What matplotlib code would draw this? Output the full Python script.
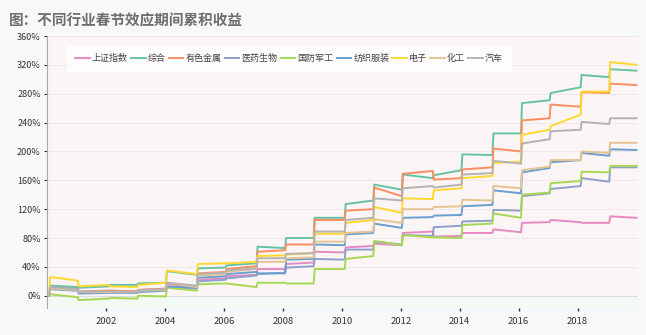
import matplotlib
matplotlib.use("Agg")
import matplotlib.pyplot as plt
import numpy as np
import pandas as pd

plt.rcParams['font.family'] = ['Noto Sans CJK SC', 'DejaVu Sans']

# 春节日期（每年窗口以春节为中心）
cny_dates = ["2000-02-05", "2001-01-24", "2002-02-12", "2003-02-01", "2004-01-22",
             "2005-02-09", "2006-01-29", "2007-02-18", "2008-02-07", "2009-01-26",
             "2010-02-14", "2011-02-03", "2012-01-23", "2013-02-10", "2014-01-31",
             "2015-02-19", "2016-02-08", "2017-01-28", "2018-02-16", "2019-02-05"]
end_date = "2020-01-01"

names = ["上证指数", "综合", "有色金属", "医药生物", "国防军工", "纺织服装", "电子", "化工", "汽车"]
colors = ["#e78ac3", "#66c2a5", "#fc8d62", "#8da0cb", "#a6d854", "#6a9fcf", "#ffd92f", "#e5c494", "#b3b3b3"]

# 累积收益(%)：窗口开始值 / 窗口结束值，以及最后一个点
sz_start = [0, 10, 7, 6, 9, 13, 24, 29, 37, 46, 60, 69, 70, 89, 83, 87, 88, 102, 102, 101]
sz_end = [13, 6, 7, 8, 16, 22, 27, 37, 44, 61, 67, 72, 87, 82, 87, 92, 101, 105, 101, 110]
sz_last = 108

zh_start = [0, 12, 13, 15, 18, 29, 39, 45, 66, 80, 108, 132, 147, 163, 174, 195, 225, 271, 289, 303]
zh_end = [14, 11, 15, 17, 34, 38, 42, 68, 80, 108, 127, 154, 168, 167, 196, 225, 267, 281, 306, 314]
zh_last = 312

ys_start = [0, 8, 7, 6, 10, 13, 33, 41, 63, 71, 105, 120, 138, 173, 163, 178, 200, 246, 262, 281]
ys_end = [10, 5, 7, 8, 17, 31, 37, 61, 71, 105, 118, 150, 169, 161, 175, 204, 243, 265, 282, 294]
ys_last = 292

yy_start = [0, 9, 5, 5, 8, 10, 22, 28, 32, 41, 50, 64, 71, 83, 97, 104, 118, 142, 152, 158]
yy_end = [11, 5, 5, 7, 12, 20, 24, 30, 39, 51, 64, 75, 84, 95, 103, 119, 138, 148, 163, 178]
yy_last = 178

gf_start = [0, -2, -4, -4, -1, 7, 17, 12, 18, 17, 37, 55, 70, 81, 80, 100, 108, 143, 159, 171]
gf_end = [2, -6, -3, 0, 11, 16, 17, 18, 17, 37, 51, 76, 84, 81, 98, 114, 140, 156, 172, 180]
gf_last = 180

fz_start = [0, 7, 4, 4, 7, 11, 27, 33, 31, 51, 70, 87, 94, 109, 112, 126, 142, 177, 188, 194]
fz_end = [9, 3, 4, 5, 13, 25, 30, 31, 50, 71, 85, 100, 108, 111, 124, 146, 171, 185, 198, 203]
fz_last = 202

dz_start = [0, 21, 15, 12, 18, 30, 45, 47, 56, 59, 86, 105, 115, 134, 149, 166, 186, 230, 251, 283]
dz_end = [26, 13, 13, 15, 35, 44, 45, 55, 57, 86, 101, 123, 135, 146, 163, 184, 223, 235, 283, 324]
dz_last = 320

hg_start = [0, 8, 5, 5, 8, 12, 30, 37, 47, 53, 75, 89, 101, 120, 124, 132, 149, 179, 188, 198]
hg_end = [10, 5, 5, 7, 18, 28, 33, 47, 52, 75, 87, 106, 120, 123, 133, 152, 174, 188, 200, 212]
hg_last = 212

qc_start = [0, 9, 6, 5, 9, 14, 32, 38, 52, 59, 89, 108, 132, 152, 154, 170, 183, 217, 230, 238]
qc_end = [12, 6, 6, 8, 18, 30, 35, 52, 58, 89, 105, 135, 149, 150, 168, 187, 211, 228, 241, 246]
qc_last = 246

series = [(sz_start, sz_end, sz_last), (zh_start, zh_end, zh_last), (ys_start, ys_end, ys_last),
          (yy_start, yy_end, yy_last), (gf_start, gf_end, gf_last), (fz_start, fz_end, fz_last),
          (dz_start, dz_end, dz_last), (hg_start, hg_end, hg_last), (qc_start, qc_end, qc_last)]


def decimal_year(ts):
    start = pd.Timestamp(year=ts.year, month=1, day=1)
    nxt = pd.Timestamp(year=ts.year + 1, month=1, day=1)
    return ts.year + (ts - start) / (nxt - start)


cny = pd.to_datetime(cny_dates)
t_open = np.array([decimal_year(d - pd.Timedelta(days=8)) for d in cny])
t_close = np.array([decimal_year(d + pd.Timedelta(days=4)) for d in cny])
t_last = decimal_year(pd.Timestamp(end_date))

fig = plt.figure(figsize=(6.46, 3.35), dpi=100, facecolor="#f7f8fa")
ax = fig.add_axes([0.0728, 0.0806, 0.9148, 0.8119])
ax.set_facecolor("#fcf5f5")

ax.axhspan(-17, 0, color="#f3f9f3", zorder=0, lw=0)
for v in range(40, 361, 40):
    ax.axhline(v, color="#f1e6e6", lw=0.6, zorder=1)
ax.axhline(0, color="#dcdcdc", lw=0.8, zorder=1)

for name, color, (s, e, last) in zip(names, colors, series):
    xs = np.column_stack([t_open, t_close]).ravel()
    ys = np.column_stack([s, e]).ravel()
    xs = np.append(xs, t_last)
    ys = np.append(ys, last)
    ax.plot(xs, ys, color=color, lw=1.4, label=name, zorder=3)

ax.set_xlim(2000.0, 2020.05)
ax.set_ylim(-17, 360)
ax.set_yticks(range(0, 361, 40))
ax.set_yticklabels([f"{v}%" for v in range(0, 361, 40)])
ax.set_xticks(range(2002, 2019, 2))
ax.tick_params(axis="y", labelsize=6.5, colors="#333333", length=2.5, width=0.8, pad=2)
ax.tick_params(axis="x", labelsize=6.8, colors="#333333", length=2.5, width=1.0, pad=4)
for sp in ["top", "right", "bottom"]:
    ax.spines[sp].set_visible(False)
ax.spines["left"].set_color("#aaaaaa")
ax.spines["left"].set_linewidth(0.8)

leg = ax.legend(loc="upper left", bbox_to_anchor=(0.034, 0.963), ncol=9, fontsize=6.5,
                frameon=True, fancybox=False, handlelength=1.6, handletextpad=0.25,
                columnspacing=0.35, borderpad=0.9, borderaxespad=0)
leg.get_frame().set_facecolor("white")
leg.get_frame().set_edgecolor("white")
for t in leg.get_texts():
    t.set_color("#444444")

fig.text(0.014, 0.963, "图：不同行业春节效应期间累积收益", fontsize=10.5, fontweight="bold",
         color="#6e6e6e", va="top", ha="left")

fig.savefig("out.png", dpi=100, facecolor=fig.get_facecolor())
